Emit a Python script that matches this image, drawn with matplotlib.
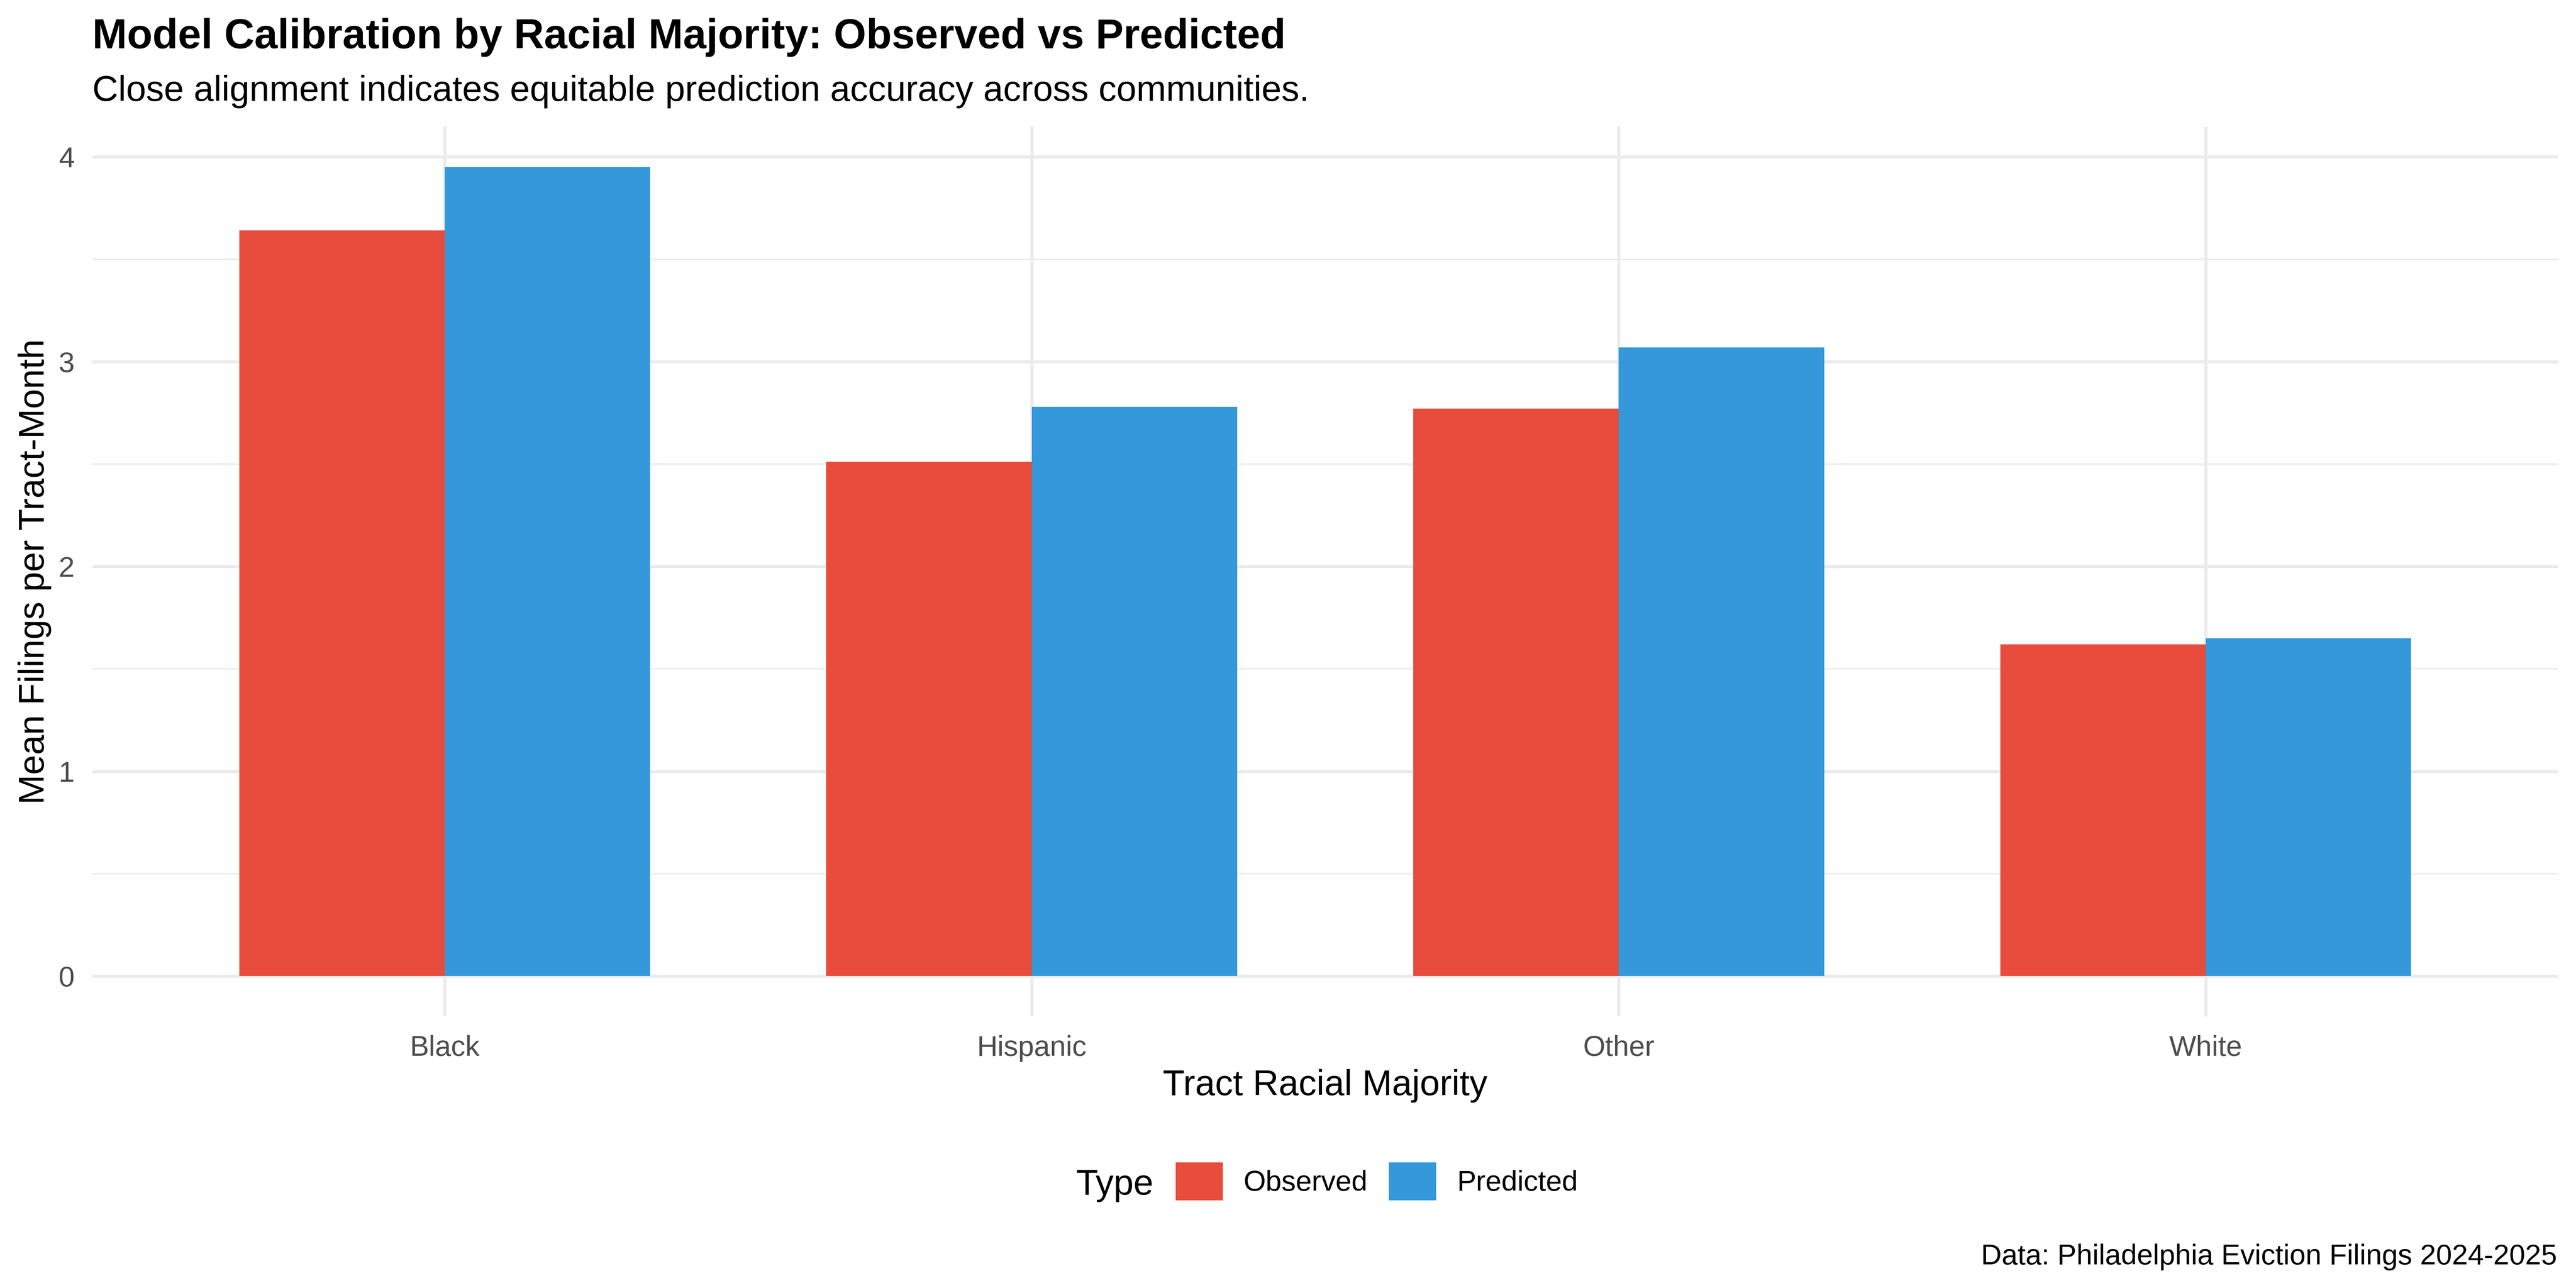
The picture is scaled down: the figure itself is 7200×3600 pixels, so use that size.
import numpy as np
import matplotlib
matplotlib.use("Agg")
import matplotlib.pyplot as plt
from matplotlib.patches import Patch

plt.rcParams["font.family"] = ["Liberation Sans", "DejaVu Sans"]

# data
groups = ["Black", "Hispanic", "Other", "White"]
observed = [3.64, 2.51, 2.77, 1.62]
predicted = [3.95, 2.78, 3.07, 1.65]
series_names = ["Observed", "Predicted"]
series_colors = ["#E74C3C", "#3498DB"]
y_ticks = [0, 1, 2, 3, 4]

grid_col = "#EBEBEB"
text_gray = "#4D4D4D"

fig = plt.figure(figsize=(12, 6), dpi=600)
ax = fig.add_axes([0.0359, 0.2108, 0.9571, 0.6909])

x = np.arange(len(groups))
w = 0.35
ax.bar(x - w / 2, observed, width=w, color=series_colors[0], zorder=3, linewidth=0)
ax.bar(x + w / 2, predicted, width=w, color=series_colors[1], zorder=3, linewidth=0)

ymax = max(max(observed), max(predicted))
pad = 0.05 * ymax
ax.set_ylim(-pad, ymax + pad)
ax.set_xlim(-0.6, len(groups) - 1 + 0.6)

ax.set_xticks(x)
ax.set_xticklabels(groups)
ax.set_yticks(y_ticks)
ax.set_yticks([0.5, 1.5, 2.5, 3.5], minor=True)
ax.set_xticks([], minor=True)

ax.grid(which="major", axis="both", color=grid_col, linewidth=1.08, zorder=0)
ax.grid(which="minor", axis="y", color=grid_col, linewidth=0.5, zorder=0)
ax.set_axisbelow(True)

for s in ax.spines.values():
    s.set_visible(False)
ax.tick_params(axis="x", which="both", length=0, pad=6.2, labelsize=9.6, labelcolor=text_gray)
ax.tick_params(axis="y", which="both", length=0, pad=6, labelsize=9.6, labelcolor=text_gray)

# titles and axis titles
fig.text(0.0359, 0.9625, "Model Calibration by Racial Majority: Observed vs Predicted",
         fontsize=14, fontweight="bold", ha="left", va="baseline")
fig.text(0.0359, 0.9217, "Close alignment indicates equitable prediction accuracy across communities.",
         fontsize=12, ha="left", va="baseline")
fig.text(0.5144, 1 - 3061 / 3600, "Tract Racial Majority", fontsize=12,
         ha="center", va="baseline")
fig.text(123 / 7200, 0.2108 + 0.6909 / 2, "Mean Filings per Tract-Month",
         fontsize=12, rotation=90, rotation_mode="anchor", ha="center", va="baseline")
fig.text(0.9926, 0.0183, "Data: Philadelphia Eviction Filings 2024-2025",
         fontsize=9.6, ha="right", va="baseline")

# legend
fig.text(3008 / 7200, 1 - 3339 / 3600, "Type", fontsize=12, ha="left", va="baseline")
handles = [Patch(facecolor=c, edgecolor="none") for c in series_colors]
fig.legend(handles, series_names, loc="center left", bbox_to_anchor=(3286 / 7200, 0.0828),
           ncol=2, frameon=False, fontsize=9.6, handlelength=1.65, handleheight=1.65,
           handletextpad=0.72, columnspacing=0.75, borderpad=0, borderaxespad=0)

fig.savefig("out.png", dpi=600, facecolor="white")
